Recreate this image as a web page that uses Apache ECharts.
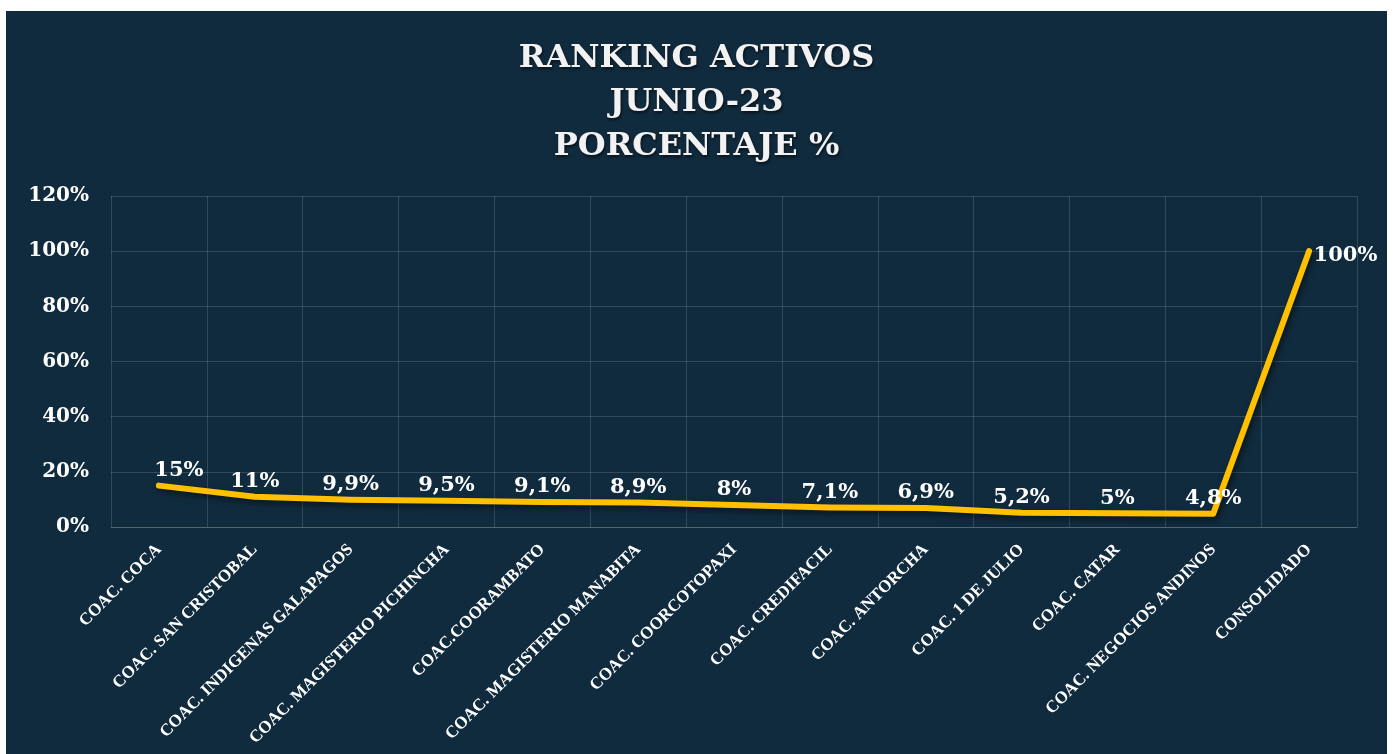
<!DOCTYPE html>
<html>
<head>
<meta charset="utf-8">
<script src="https://cdn.jsdelivr.net/npm/echarts@6/dist/echarts.min.js"></script>
<style>
html,body{margin:0;padding:0;background:#ffffff;width:1394px;height:754px;overflow:hidden;}
#chart{position:absolute;left:6px;top:11px;width:1381px;height:743px;background:#112b3e;}
</style>
</head>
<body>
<div id="chart"></div>
<script>
const categories = ["COAC. COCA","COAC. SAN CRISTOBAL","COAC. INDIGENAS GALAPAGOS","COAC. MAGISTERIO PICHINCHA","COAC.COORAMBATO","COAC. MAGISTERIO MANABITA","COAC. COORCOTOPAXI","COAC. CREDIFACIL","COAC. ANTORCHA","COAC. 1 DE JULIO","COAC. CATAR","COAC. NEGOCIOS ANDINOS","CONSOLIDADO"];
const values = [15, 11, 9.9, 9.5, 9.1, 8.9, 8, 7.1, 6.9, 5.2, 5, 4.8, 100];
const yTicks = [0, 20, 40, 60, 80, 100, 120];
const titleLines = ["RANKING ACTIVOS", "JUNIO-23", "PORCENTAJE %"];

function fmt(v){ return String(v).replace('.', ',') + '%'; }

const chart = echarts.init(document.getElementById('chart'), null, {renderer:'canvas'});
const serif = '"DejaVu Serif", serif';
const gridColor = 'rgba(255,255,255,0.15)';

const seriesData = values.map((v, i) => {
  const d = {value: v};
  if (i === values.length - 1) d.label = {position: 'right', distance: 2, offset:[0, 4]};
  if (i === 0) d.label = {offset: [20, 0]};
  return d;
});

chart.setOption({
  backgroundColor: '#112b3e',
  animation: false,
  title: {
    text: titleLines.join('\n'),
    left: 'center',
    top: 21,
    textStyle: {
      color: '#f2f2f2',
      fontFamily: serif,
      fontWeight: 'bold',
      fontSize: 32,
      lineHeight: 44,
      textShadowColor: 'rgba(0,0,0,0.6)',
      textShadowBlur: 3,
      textShadowOffsetX: 1,
      textShadowOffsetY: 2
    }
  },
  grid: {left: 105, right: 30, top: 185, bottom: 227, containLabel: false},
  xAxis: {
    type: 'category',
    data: categories,
    boundaryGap: true,
    axisLine: {show: true, lineStyle: {color: gridColor, width: 1}},
    axisTick: {show: false},
    splitLine: {show: true, lineStyle: {color: gridColor, width: 1}},
    axisLabel: {
      interval: 0,
      rotate: 45,
      margin: 20,
      color: '#ffffff',
      fontFamily: '"Liberation Serif", serif',
      fontWeight: 'bold',
      fontSize: 17
    }
  },
  yAxis: {
    type: 'value',
    min: 0,
    max: 120,
    interval: 20,
    axisLine: {show: false},
    axisTick: {show: false},
    splitLine: {show: true, lineStyle: {color: gridColor, width: 1}},
    axisLabel: {
      margin: 22,
      color: '#ffffff',
      fontFamily: serif,
      fontWeight: 'bold',
      fontSize: 20,
      formatter: v => yTicks.includes(v) ? v + '%' : ''
    }
  },
  series: [{
    type: 'line',
    data: seriesData,
    smooth: false,
    symbol: 'circle',
    symbolSize: 5,
    itemStyle: {color: '#FFC000'},
    lineStyle: {
      color: '#FFC000',
      width: 6,
      cap: 'round',
      join: 'round',
      shadowColor: 'rgba(0,0,0,0.55)',
      shadowBlur: 6,
      shadowOffsetX: 2,
      shadowOffsetY: 3
    },
    label: {
      show: true,
      position: 'top',
      distance: 2,
      color: '#ffffff',
      fontFamily: serif,
      fontWeight: 'bold',
      fontSize: 21,
      formatter: p => fmt(p.value)
    }
  }]
});
</script>
</body>
</html>
